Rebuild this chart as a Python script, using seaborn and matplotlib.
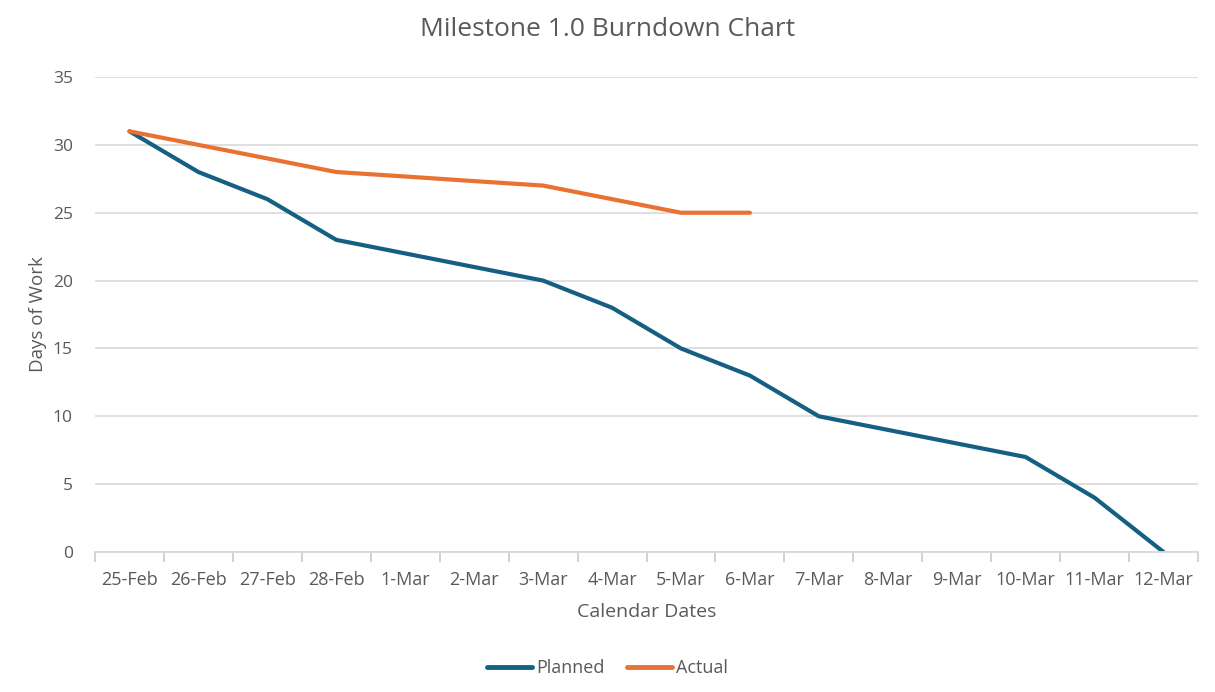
import pandas as pd
import numpy as np
import matplotlib.pyplot as plt
import seaborn as sns
from matplotlib.lines import Line2D

dates = ["25-Feb", "26-Feb", "27-Feb", "28-Feb", "1-Mar", "2-Mar", "3-Mar", "4-Mar",
         "5-Mar", "6-Mar", "7-Mar", "8-Mar", "9-Mar", "10-Mar", "11-Mar", "12-Mar"]
planned = [31, 28, 26, 23, 22, 21, 20, 18, 15, 13, 10, 9, 8, 7, 4, 0]
actual = [31, 30, 29, 28, 27.67, 27.33, 27, 26, 25, 25]

colors = {"Planned": "#156082", "Actual": "#E97132"}
grey = "#595959"

sns.set_theme(style="white")
plt.rcParams['font.family'] = ['Open Sans', 'DejaVu Sans']

df = pd.concat([
    pd.DataFrame({"Date": dates, "pos": range(len(dates)), "Days": planned, "Series": "Planned"}),
    pd.DataFrame({"Date": dates[:len(actual)], "pos": range(len(actual)), "Days": actual, "Series": "Actual"}),
])

fig = plt.figure(figsize=(12.15, 6.92), dpi=100)
ax = fig.add_axes([0.0782, 0.2023, 0.9078, 0.6864])

sns.lineplot(data=df, x="pos", y="Days", hue="Series", palette=colors, linewidth=3,
             sort=False, legend=False, ax=ax, solid_capstyle="round", solid_joinstyle="round")

ax.set_xlim(-0.5, len(dates) - 0.5)
ax.set_ylim(0, 35)
ax.set_yticks(range(0, 36, 5))
ax.set_xticks(range(len(dates)))
ax.set_xticklabels(dates)
ax.set_xticks(np.arange(-0.5, len(dates), 1), minor=True)
ax.tick_params(axis="x", which="major", length=0, pad=14, labelsize=13, labelcolor=grey)
ax.tick_params(axis="x", which="minor", bottom=True, length=7, width=1.3, color="#cfcfcf", direction="out")
ax.tick_params(axis="y", length=0, pad=16, labelsize=12.5, labelcolor=grey)

ax.yaxis.grid(True, color="#d9d9d9", linewidth=1.2)
ax.set_axisbelow(True)
for s in ["top", "right", "left"]:
    ax.spines[s].set_visible(False)
ax.spines["bottom"].set_color("#d9d9d9")
ax.spines["bottom"].set_linewidth(1.3)

ax.set_xlabel("Calendar Dates", fontsize=14, color=grey, labelpad=10)
ax.set_ylabel("Days of Work", fontsize=13.5, color=grey, labelpad=4)
fig.suptitle("Milestone 1.0 Burndown Chart", fontsize=19, color=grey, y=0.975)

handles = [Line2D([], [], color=colors[k], lw=3.5, solid_capstyle="round") for k in colors]
fig.legend(handles, list(colors), loc="center", bbox_to_anchor=(0.5, 0.034), ncol=2,
           frameon=False, fontsize=13, labelcolor=grey, handlelength=2.5,
           handletextpad=0.25, columnspacing=1.2)

fig.savefig("out.png", dpi=100)
